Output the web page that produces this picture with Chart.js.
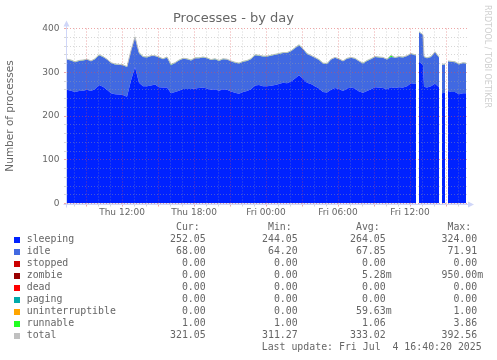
<!DOCTYPE html>
<html><head><meta charset="utf-8">
<script src="https://cdn.jsdelivr.net/npm/chart.js@4/dist/chart.umd.min.js"></script>
<style>
html,body{margin:0;padding:0;background:#fff;}
#wrap{position:relative;width:497px;height:360px;overflow:hidden;background:#fff;}
#c{position:absolute;left:0;top:0;}
.mono{position:absolute;font-family:'DejaVu Sans Mono',monospace;font-size:9.9px;line-height:12px;color:#666;white-space:pre;}
.sw{position:absolute;width:6px;height:6px;}
#wm{position:absolute;font-family:'DejaVu Sans',sans-serif;font-size:8px;line-height:9px;color:#cfcfcf;white-space:nowrap;transform-origin:0 0;transform:rotate(90deg);}
</style></head>
<body><div id="wrap"><canvas id="c" width="497" height="360"></canvas>
<div id="wm" style="left:492px;top:5px">RRDTOOL / TOBI OETIKER</div>
<div id="legend"></div></div>
<script>
// time of each sample, minutes after Thu 00:00
const times = [445,465,485,505,525,545,565,585,605,625,645,665,685,705,725,745,765,785,805,825,845,865,885,905,925,945,965,985,1005,1025,1045,1065,1085,1105,1125,1145,1165,1185,1205,1225,1245,1265,1285,1305,1325,1345,1365,1385,1405,1425,1445,1465,1485,1505,1525,1545,1565,1585,1605,1625,1645,1665,1685,1705,1725,1745,1765,1785,1805,1825,1845,1865,1885,1905,1925,1945,1965,1985,2005,2025,2045,2065,2085,2105,2125,2145,2165,2185,2190,2195,2205,2225,2230,2245,2265,2285,2305,2310,2320,2335,2340,2350,2365,2385,2405,2425,2440];
const sleeping = [260,258,255,257,258,260,257,262,271,267, 260,252,250,249,248,244,281,312,276,268, 268,270,272,266,265,265,252,255,258,262, 262,262,263,264,265,263,260,261,258,261, 260,256,253,251,255,257,261,270,271,268, 268,269,271,273,276,275,279,286,293,285, 276,273,268,263,255,254,260,264,262,257, 263,265,263,256,253,257,261,266,265,264, 261,266,264,266,265,268,275,274,274,null, 324,317,267,265,268,274,266,null,252,253, null,257,255,255,250,252,252.05];
const idle = [69,69,68,69,69,69,68,68,68,68, 69,69,68,68,68,68,68,68,68,67, 66,67,65,68,65,69,64.2,66,69,69, 68,65,69,68,69,69,68,69,68,69, 69,69,69,69,69,69,69,69,67,68, 68,69,69,69,68,69,69,69,69,68, 66,64.5,65,65,65,65,69,69,68,68, 68,68,68,69,67,69,69,69,69,69, 68,69,69,69,69,69,67,65,65,null, 67.56,68,68,67,67,71.91,68,null,65,65, null,68,69,68,68,69,68];
const runnable = [1,1,1,1,1,1,1,1,1,1, 1,1,1,1,1,1,1,1,1,1, 1,1,1,1,1,1,2,1,1,1, 1,1,1,1,1,1,1,1,1,1, 1,1,1,1,1,1,1,1,1,1, 1,1,1,1,1,1,1,1,1,1, 1,1,1,1,1,1,1,1,1,1, 1,1,1,1,1,1,1,1,1,1, 1,3.86,1,1,1,1,1,1,1,null, 1,1,1,1,1,1,1,null,1,1, null,1,1,1,1,1,1];

const xLabelTimes = [720,1080,1440,1800,2160];
const xLabelTexts = ['Thu 12:00','Thu 18:00','Fri 00:00','Fri 06:00','Fri 12:00'];
const yLabelValues = [0,100,200,300,400];

// legend table
const seriesNames = ['sleeping','idle','stopped','zombie','dead','paging','uninterruptible','runnable','total'];
const seriesColors = ['#0022ff','#4169e1','#cc0000','#990000','#ff0000','#00aaaa','#ffa500','#22ff22','#c0c0c0'];
const curVals = ['252.05','68.00','0.00','0.00','0.00','0.00','0.00','1.00','321.05'];
const minVals = ['244.05','64.20','0.00','0.00','0.00','0.00','0.00','1.00','311.27'];
const avgVals = ['264.05','67.85','0.00','5.28m','0.00','0.00','59.63m','1.06','333.02'];
const maxVals = ['324.00','71.91','0.00','950.00m','0.00','0.00','1.00','3.86','392.56'];
const lastUpdate = 'Last update: Fri Jul  4 16:40:20 2025';

const total = sleeping.map((s,i)=> s==null ? null : +(s + idle[i] + runnable[i]).toFixed(2));
const pts = arr => times.map((t,i)=>({x:t, y:arr[i]}));

// build legend
const lg = document.getElementById('legend');
function fmt(v){ return (/[a-z]$/.test(v) ? v : v + ' ').padStart(7); }
function col(left, top, text){ const d=document.createElement('div'); d.className='mono'; d.style.left=left+'px'; d.style.top=top+'px'; d.textContent=text; lg.appendChild(d); }
seriesColors.forEach((c,k)=>{ const s=document.createElement('div'); s.className='sw'; s.style.left='14px'; s.style.top=(237+12*k)+'px'; s.style.background=c; lg.appendChild(s); });
col(26.7, 233, seriesNames.join('\n'));
col(170, 221, [' Cur:  '].concat(curVals.map(fmt)).join('\n'));
col(262, 221, [' Min:  '].concat(minVals.map(fmt)).join('\n'));
col(350, 221, [' Avg:  '].concat(avgVals.map(fmt)).join('\n'));
col(441.5, 221, [' Max:  '].concat(maxVals.map(fmt)).join('\n'));
col(261.7, 341, lastUpdate);

const MINOR = 'rgba(160,160,160,0.42)';
const MAJOR = 'rgba(222,80,80,0.5)';

const axisArrows = {
  id:'axisArrows',
  afterDraw(chart){
    const {ctx, chartArea:{left,right,top,bottom}} = chart;
    ctx.save();
    ctx.strokeStyle = '#CFD6F8'; ctx.fillStyle = '#CFD6F8'; ctx.lineWidth = 1;
    const x0 = Math.round(left) - 0.5, y0 = Math.round(bottom) + 0.5;
    ctx.beginPath();
    ctx.moveTo(x0, y0 + 3); ctx.lineTo(x0, top - 5);
    ctx.moveTo(x0 - 3, y0); ctx.lineTo(right + 2, y0);
    ctx.stroke();
    ctx.beginPath(); ctx.moveTo(x0, top - 8); ctx.lineTo(x0 - 3, top - 2); ctx.lineTo(x0 + 3, top - 2); ctx.closePath(); ctx.fill();
    ctx.beginPath(); ctx.moveTo(right + 7, y0); ctx.lineTo(right + 1, y0 - 3); ctx.lineTo(right + 1, y0 + 3); ctx.closePath(); ctx.fill();
    ctx.restore();
  }
};

new Chart(document.getElementById('c'), {
  type:'line',
  data:{ datasets:[
    {label:'sleeping', data:pts(sleeping), backgroundColor:'#0022ff', fill:'origin', stack:'procs', order:1},
    {label:'idle', data:pts(idle), backgroundColor:'#4169e1', fill:'-1', stack:'procs', order:1},
    {label:'runnable', data:pts(runnable), backgroundColor:'#22ff22', fill:'-1', stack:'procs', order:1},
    {label:'total', data:pts(total), borderColor:'#c0c0c0', borderWidth:1, fill:false, stack:'total', order:0}
  ]},
  options:{
    responsive:false, animation:false, events:[], spanGaps:false,
    elements:{ point:{radius:0, hoverRadius:0}, line:{tension:0, borderWidth:0, borderColor:'rgba(0,0,0,0)'} },
    layout:{ padding:{left:0, right:30, top:0, bottom:136.5} },
    plugins:{
      legend:{display:false}, tooltip:{enabled:false},
      title:{display:true, text:'Processes - by day', color:'#666', font:{family:'DejaVu Sans', size:13, weight:'normal'}, padding:{top:11, bottom:1.9}}
    },
    scales:{
      x:{
        type:'linear', min:445, max:2445,
        afterBuildTicks:(s)=>{ const t=[]; for(let v=480; v<=2400; v+=60) t.push({value:v}); s.ticks=t; },
        afterFit:(s)=>{ s.height=20; },
        ticks:{ autoSkip:false, maxRotation:0, minRotation:0, padding:1, color:'#666', font:{family:'DejaVu Sans', size:9},
          callback:(v)=>{ const k=xLabelTimes.indexOf(v); return k>=0 ? xLabelTexts[k] : ''; } },
        grid:{ z:1, lineWidth:1, tickLength:3, borderDash:[1,2], color:(c)=> (c.tick && c.tick.value % 180 === 0) ? MAJOR : MINOR },
        border:{ display:false, dash:[1,2] }
      },
      y:{
        stacked:true, min:0, max:400,
        afterFit:(s)=>{ s.width=67; },
        ticks:{ stepSize:20, autoSkip:false, padding:4.5, color:'#666', font:{family:'DejaVu Sans', size:9},
          callback:(v)=> yLabelValues.includes(v) ? String(v) : '' },
        title:{ display:true, text:'Number of processes', color:'#666', font:{family:'DejaVu Sans', size:10.5}, padding:{top:4, bottom:0} },
        grid:{ z:1, lineWidth:1, tickLength:3, borderDash:[1,2], color:(c)=> (c.tick && c.tick.value % 100 === 0) ? MAJOR : MINOR },
        border:{ display:false, dash:[1,2] }
      }
    }
  },
  plugins:[axisArrows]
});
</script>
</body></html>
